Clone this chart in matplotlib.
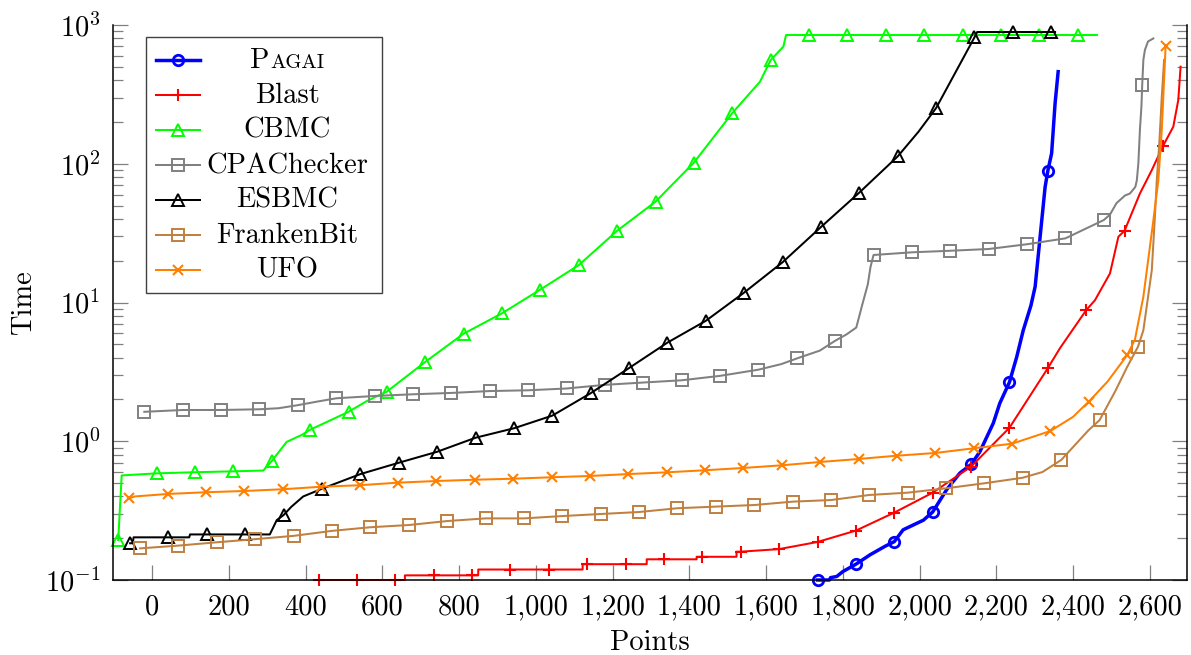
import numpy as np
import matplotlib
matplotlib.use("Agg")
import matplotlib.pyplot as plt
from matplotlib.ticker import FixedLocator, FuncFormatter, LogLocator, NullFormatter
from matplotlib.transforms import Affine2D
from matplotlib.lines import Line2D
from matplotlib.patches import Rectangle

plt.rcParams.update({
    "font.family": "cmr10",
    "mathtext.fontset": "cm",
    "axes.unicode_minus": False,
    "axes.formatter.use_mathtext": True,
})

# ---- cactus-plot data: x = solved-instance index, y = time (s) ----
# a mark is drawn every 100 instances, starting from the first point
pagai_x = [1734, 1765, 1768, 1784, 1800, 1834, 1871, 1910, 1934, 1957, 2010, 2034, 2071, 2105,
           2134, 2157, 2192, 2209, 2234, 2253, 2270, 2290, 2301, 2314, 2327, 2334, 2344, 2353, 2361]
pagai_y = [0.1, 0.1, 0.104, 0.106, 0.115, 0.13, 0.152, 0.175, 0.189, 0.23, 0.27, 0.309, 0.45, 0.59,
           0.68, 0.84, 1.35, 1.88, 2.66, 4.05, 6.3, 9.5, 13, 29.8, 68, 88.7, 119, 273, 461]

blast_x = [434, 534, 634, 659, 659, 734, 834, 850, 850, 934, 1034, 1122, 1122, 1134, 1234, 1289, 1289,
           1334, 1419, 1419, 1434, 1523, 1523, 1534, 1634, 1734, 1834, 1934, 2034, 2134, 2234, 2334,
           2366, 2396, 2434, 2457, 2496, 2518, 2534, 2574, 2605, 2634, 2661, 2674, 2680]
blast_y = [0.1, 0.1, 0.1, 0.1, 0.108, 0.108, 0.108, 0.108, 0.119, 0.119, 0.119, 0.119, 0.13, 0.13, 0.13,
           0.13, 0.141, 0.141, 0.141, 0.147, 0.147, 0.147, 0.16, 0.16, 0.167, 0.188, 0.227, 0.306,
           0.426, 0.656, 1.25, 3.36, 4.7, 6.2, 8.8, 10.4, 16.2, 29.8, 32.9, 61, 90, 134, 185, 288, 501]

cbmc_x = [-88, -79, 12, 112, 212, 290, 312, 351, 390, 412, 512, 560, 612, 712, 812, 912, 1012, 1112,
          1212, 1312, 1412, 1512, 1584, 1612, 1645, 1652, 1712, 1812, 1912, 2012, 2112, 2212, 2312,
          2412, 2462]
cbmc_y = [0.194, 0.567, 0.587, 0.598, 0.607, 0.615, 0.72, 0.99, 1.11, 1.21, 1.63, 1.95, 2.28, 3.73,
          5.96, 8.36, 12.4, 18.6, 32.9, 53.3, 102, 232, 390, 559, 698, 847, 847, 847, 847, 847, 847,
          847, 847, 847, 847]

cpa_x = [-20, 80, 180, 280, 330, 380, 430, 480, 580, 680, 780, 880, 980, 1080, 1180, 1280, 1380,
         1480, 1580, 1640, 1680, 1740, 1780, 1810, 1835, 1850, 1865, 1872, 1880, 1980, 2080, 2180,
         2280, 2380, 2480, 2496, 2513, 2535, 2548, 2562, 2566, 2570, 2574, 2578, 2580, 2583, 2587,
         2595, 2609]
cpa_y = [1.63, 1.68, 1.68, 1.70, 1.73, 1.82, 1.93, 2.04, 2.12, 2.18, 2.23, 2.30, 2.33, 2.40, 2.55,
         2.65, 2.75, 2.96, 3.28, 3.6, 3.95, 4.5, 5.3, 5.9, 6.6, 9.5, 13.5, 18, 22.0, 23.0, 23.6, 24.3,
         26.3, 29.0, 39.3, 43, 52, 59, 61, 68, 76, 101, 175, 260, 370, 560, 660, 760, 800]

esbmc_x = [-57, -50, -48, 43, 97, 99, 143, 243, 307, 325, 343, 363, 394, 443, 543, 643, 743, 843,
           943, 1043, 1143, 1243, 1343, 1443, 1543, 1643, 1743, 1843, 1943, 1997, 2043, 2143, 2150,
           2243, 2343, 2353]
esbmc_y = [0.184, 0.184, 0.203, 0.203, 0.203, 0.213, 0.213, 0.213, 0.213, 0.27, 0.294, 0.337, 0.40,
           0.455, 0.58, 0.70, 0.84, 1.06, 1.24, 1.53, 2.22, 3.37, 5.14, 7.38, 11.8, 19.5, 35, 62, 113,
           170, 252, 815, 890, 890, 890, 890]

franken_x = [-31, 69, 169, 269, 369, 469, 569, 669, 769, 869, 969, 1069, 1169, 1269, 1369, 1469, 1569,
             1669, 1769, 1869, 1969, 2069, 2169, 2269, 2320, 2369, 2440, 2469, 2510, 2540, 2569, 2583,
             2605, 2613, 2618, 2625, 2631, 2637]
franken_y = [0.169, 0.177, 0.187, 0.197, 0.208, 0.226, 0.24, 0.249, 0.266, 0.278, 0.278, 0.289, 0.299,
             0.309, 0.329, 0.338, 0.347, 0.367, 0.377, 0.41, 0.426, 0.458, 0.498, 0.546, 0.6, 0.733,
             1.2, 1.42, 2.3, 3.4, 4.8, 6.3, 17.1, 41.5, 76, 148, 304, 560]

ufo_x = [-59, -45, 41, 141, 241, 341, 441, 541, 641, 741, 841, 941, 1041, 1141, 1241, 1341, 1441,
         1541, 1641, 1741, 1841, 1941, 2041, 2141, 2241, 2341, 2400, 2431, 2441, 2490, 2541, 2561,
         2583, 2609, 2622, 2631, 2637, 2641]
ufo_y = [0.388, 0.40, 0.417, 0.429, 0.438, 0.451, 0.47, 0.482, 0.503, 0.517, 0.528, 0.537, 0.55, 0.562,
         0.58, 0.597, 0.618, 0.642, 0.671, 0.709, 0.745, 0.787, 0.823, 0.89, 0.96, 1.186, 1.5, 1.82,
         1.93, 2.7, 4.18, 5.4, 11, 39, 76, 175, 402, 706]

names = ["Pagai", "Blast", "CBMC", "CPAChecker", "ESBMC", "FrankenBit", "UFO"]
xs = [pagai_x, blast_x, cbmc_x, cpa_x, esbmc_x, franken_x, ufo_x]
ys = [pagai_y, blast_y, cbmc_y, cpa_y, esbmc_y, franken_y, ufo_y]

x_ticks = list(range(0, 2601, 200))
y_ticks = [0.1, 1, 10, 100, 1000]
y_tick_labels = [r"$10^{-1}$", r"$10^{0}$", r"$10^{1}$", r"$10^{2}$", r"$10^{3}$"]

styles = [
    dict(color="#0000ff", marker="o", ms=7.5, lw=2.5, mew=2.0),
    dict(color="#ff0000", marker="+", ms=9.0, lw=1.45, mew=1.5),
    dict(color="#00ff00", marker="^", ms=8.0, lw=1.45, mew=1.4),
    dict(color="#808080", marker="s", ms=8.0, lw=1.45, mew=1.4),
    dict(color="#000000", marker="^", ms=8.0, lw=1.45, mew=1.4),
    dict(color="#bf8040", marker="s", ms=8.0, lw=1.45, mew=1.4),
    dict(color="#ff8000", marker="x", ms=6.5, lw=1.45, mew=1.5),
]

W, H = 1191, 655
fig = plt.figure(figsize=(W / 100, H / 100), dpi=100)
ax = fig.add_axes([113 / W, 75 / H, 1074 / W, 555 / H])

for x, y, st in zip(xs, ys, styles):
    x = np.asarray(x)
    y = np.asarray(y)
    marks = ((x - x[0]) % 100) == 0
    ax.plot(x, y, color=st["color"], lw=st["lw"], marker=st["marker"], ms=st["ms"],
            mew=st["mew"], mfc="none", mec=st["color"], markevery=marks.tolist(),
            clip_on=False, solid_joinstyle="round")

ax.set_yscale("log")
ax.set_ylim(0.1, 1000)
ax.set_xlim(-101.6, 2696.7)

ax.xaxis.set_major_locator(FixedLocator(x_ticks))
ax.xaxis.set_major_formatter(FuncFormatter(lambda v, p: f"{v:,.0f}"))
ax.yaxis.set_major_locator(FixedLocator(y_ticks))
ax.yaxis.set_major_formatter(FuncFormatter(lambda v, p: y_tick_labels[y_ticks.index(v)] if v in y_ticks else ""))
ax.yaxis.set_minor_locator(LogLocator(base=10, subs=np.arange(2, 10)))
ax.yaxis.set_minor_formatter(NullFormatter())

ax.tick_params(axis="x", which="major", direction="in", length=11, width=0.9, color="#808080",
               top=False, bottom=True, labelsize=20.5, pad=10)
ax.tick_params(axis="y", which="major", direction="in", length=11, width=0.9, color="#808080",
               left=True, right=True, labelsize=20.5, pad=9)
ax.tick_params(axis="y", which="minor", direction="in", length=7, width=0.9, color="#808080",
               left=True, right=True)

ax.spines["top"].set_visible(False)
for s in ("left", "right", "bottom"):
    ax.spines[s].set_linewidth(1.1)
    ax.spines[s].set_color("black")

ax.set_xlabel("Points", fontsize=20.5)
ax.set_ylabel("Time", fontsize=20.5)
ax.xaxis.set_label_coords(0.5, -0.09)
ax.yaxis.set_label_coords(-0.071, 0.5)

# ---- legend box, laid out in image pixels (y grows downward) ----
pix = Affine2D().scale(1 / W, -1 / H).translate(0, 1) + fig.transFigure
fig.patches.append(Rectangle((146, 37), 236, 256, transform=pix, fill=False,
                             edgecolor="#404040", lw=1.0, zorder=5))
rows = [60, 95, 130, 165, 200, 235, 270]
text_cx = 287.5
for name, st, ry in zip(names, styles, rows):
    fig.lines.append(Line2D([156, 200], [ry, ry], transform=pix, color=st["color"], lw=st["lw"]))
    fig.lines.append(Line2D([178], [ry], transform=pix, color=st["color"], ls="none",
                            marker=st["marker"], ms=st["ms"], mew=st["mew"], mfc="none"))
    if name != "Pagai":
        fig.text(text_cx, ry + 8, name, transform=pix, ha="center", va="baseline", fontsize=20.5)

# small-caps label for the first entry
tP = fig.text(0, rows[0] + 8, "P", transform=pix, ha="left", va="baseline", fontsize=20.5)
tA = fig.text(0, rows[0] + 8, "AGAI", transform=pix, ha="left", va="baseline", fontsize=14.8)
fig.canvas.draw()
r = fig.canvas.get_renderer()
wP = tP.get_window_extent(r).width
wA = tA.get_window_extent(r).width
left = text_cx - (wP + 1 + wA) / 2
tP.set_x(left)
tA.set_x(left + wP + 1)

fig.savefig("out.png", dpi=100)
